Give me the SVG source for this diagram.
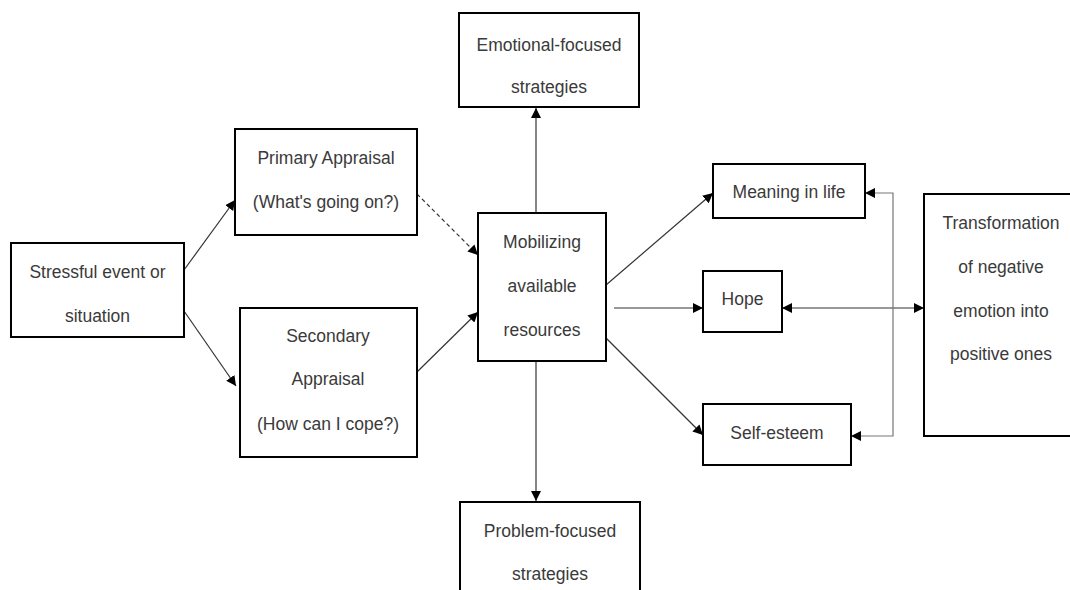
<svg xmlns="http://www.w3.org/2000/svg" width="1070" height="590" viewBox="0 0 1070 590">
<style>
.box{fill:#fff;stroke:#000;stroke-width:2}
.t{font-family:"Liberation Sans",Arial,sans-serif;font-size:17.5px;fill:#3a3a3a;text-anchor:middle}
.c{fill:none;stroke:#333;stroke-width:1.2}
.d{stroke-dasharray:4,3}
.g{stroke:#777}
</style>
<defs>
<marker id="ah" viewBox="0 0 10 10" refX="10" refY="5" markerWidth="10" markerHeight="10" markerUnits="userSpaceOnUse" orient="auto-start-reverse">
<path d="M0,0 L10,5 L0,10 z" fill="#000"/>
</marker>
</defs>
<rect width="1070" height="590" fill="#fff"/>
<g id="connectors">
<line class="c" x1="184" y1="270" x2="235" y2="200" marker-end="url(#ah)"/>
<line class="c" x1="184" y1="311" x2="236" y2="386" marker-end="url(#ah)"/>
<line class="c d" x1="417" y1="194" x2="478" y2="255" marker-end="url(#ah)"/>
<line class="c" x1="417" y1="372" x2="478" y2="312" marker-end="url(#ah)"/>
<line class="c" x1="536" y1="213" x2="536" y2="108" marker-end="url(#ah)"/>
<line class="c" x1="536" y1="361" x2="536" y2="501" marker-end="url(#ah)"/>
<line class="c" x1="606" y1="285" x2="713" y2="193" marker-end="url(#ah)"/>
<line class="c" x1="614" y1="308" x2="703" y2="308" marker-end="url(#ah)"/>
<line class="c" x1="606" y1="338" x2="703" y2="435" marker-end="url(#ah)"/>
<line class="c" x1="782" y1="308" x2="924" y2="308" marker-start="url(#ah)" marker-end="url(#ah)"/>
<path class="c g" d="M865,193 H893 V436 H851" marker-start="url(#ah)" marker-end="url(#ah)"/>
</g>
<g id="stressful">
<rect class="box" x="11" y="243" width="173" height="94"/>
<text class="t" x="97.5" y="278">Stressful event or</text>
<text class="t" x="97.5" y="322">situation</text>
</g>
<g id="primary">
<rect class="box" x="235" y="129" width="182" height="106"/>
<text class="t" x="326" y="164">Primary Appraisal</text>
<text class="t" x="326" y="208">(What's going on?)</text>
</g>
<g id="secondary">
<rect class="box" x="240" y="308" width="177" height="149"/>
<text class="t" x="328" y="342">Secondary</text>
<text class="t" x="328" y="385">Appraisal</text>
<text class="t" x="328" y="430">(How can I cope?)</text>
</g>
<g id="mobilizing">
<rect class="box" x="478" y="213" width="128" height="148"/>
<text class="t" x="542" y="248">Mobilizing</text>
<text class="t" x="542" y="292">available</text>
<text class="t" x="542" y="336">resources</text>
</g>
<g id="emotional">
<rect class="box" x="459" y="13" width="180" height="94"/>
<text class="t" x="549" y="51">Emotional-focused</text>
<text class="t" x="549" y="93">strategies</text>
</g>
<g id="problem">
<rect class="box" x="460" y="502" width="180" height="100"/>
<text class="t" x="550" y="537">Problem-focused</text>
<text class="t" x="550" y="580">strategies</text>
</g>
<g id="meaning">
<rect class="box" x="713" y="164" width="152" height="54"/>
<text class="t" x="789" y="198">Meaning in life</text>
</g>
<g id="hope">
<rect class="box" x="703" y="271" width="79" height="61"/>
<text class="t" x="742.5" y="305">Hope</text>
</g>
<g id="selfesteem">
<rect class="box" x="703" y="404" width="148" height="61"/>
<text class="t" x="777" y="439">Self-esteem</text>
</g>
<g id="transformation">
<rect class="box" x="924" y="194" width="160" height="242"/>
<text class="t" x="1001" y="229">Transformation</text>
<text class="t" x="1001" y="273">of negative</text>
<text class="t" x="1001" y="317">emotion into</text>
<text class="t" x="1001" y="360">positive ones</text>
</g>
</svg>
